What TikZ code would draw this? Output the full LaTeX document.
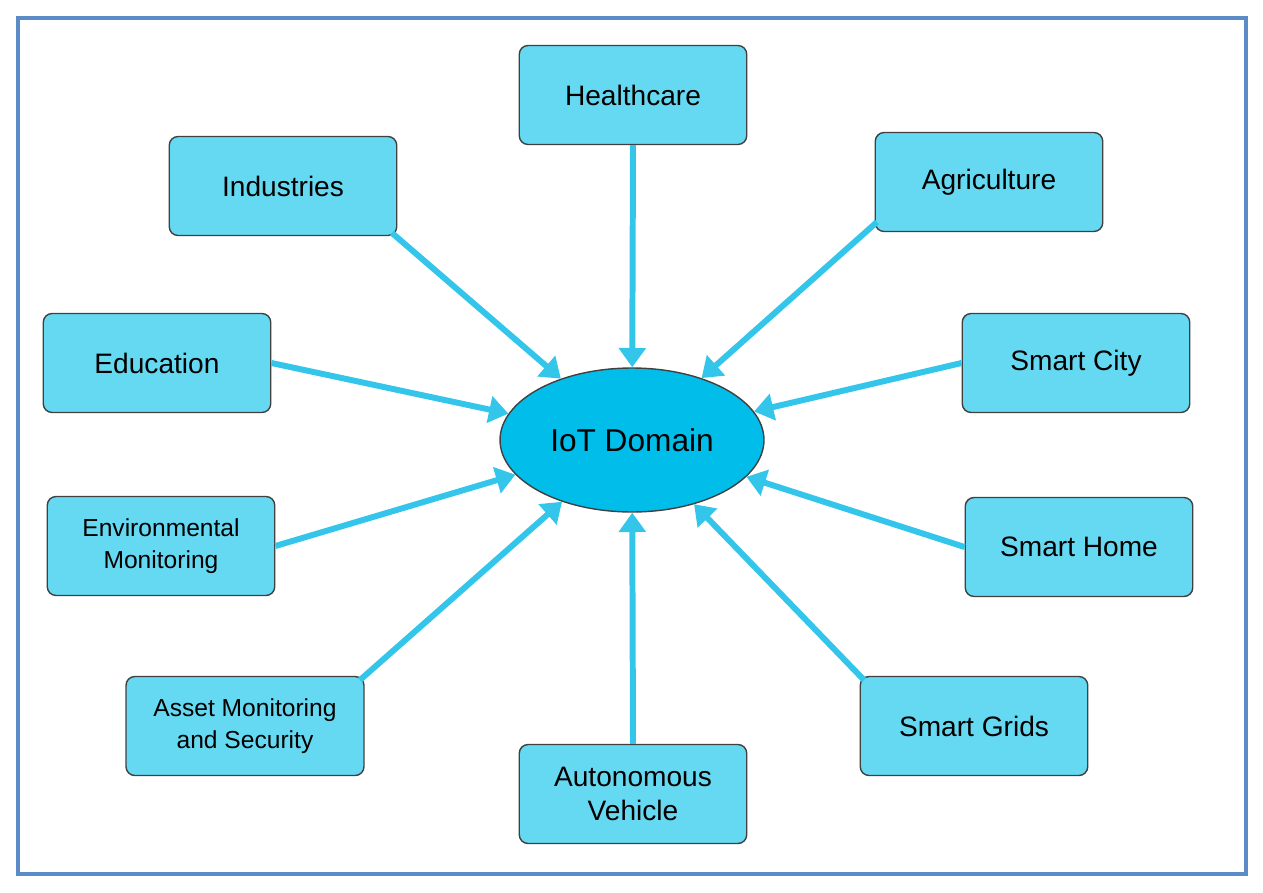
\documentclass[tikz,border=0pt]{standalone}
\usepackage{fontspec}
\setmainfont{Liberation Sans}
\usetikzlibrary{arrows.meta,shapes.geometric}
\definecolor{boxc}{HTML}{66D9F2}
\definecolor{ellc}{HTML}{00BDE9}
\definecolor{arrc}{HTML}{33C6EA}
\definecolor{framec}{HTML}{5B8CC8}
\begin{document}
\begin{tikzpicture}[x=0.02cm,y=-0.02cm,
 box/.style={draw=black!75,line width=0.8pt,fill=boxc,rounded corners=5pt,minimum width=4.55cm,minimum height=1.98cm,align=center,font=\fontsize{16}{19}\selectfont},
 box2/.style={box,font=\fontsize{14}{18}\selectfont},
 arr/.style={draw=arrc,line width=3.4pt,-{Triangle[length=11pt,width=15pt]}}]
\useasboundingbox (0,0) rectangle (1263,892);
\draw[framec,line width=1.8pt] (18,18) rectangle (1246,874);
\node[draw=black!75,line width=0.8pt,fill=ellc,ellipse,minimum width=5.28cm,minimum height=2.88cm,font=\fontsize{18}{22}\selectfont] (iot) at (632,440) {IoT Domain};
\node[box] (hc) at (633,95) {Healthcare};
\node[box] (ind) at (283,186) {Industries};
\node[box] (agr) at (989,182) {Agriculture};
\node[box] (edu) at (157,363) {Education};
\node[box] (sc) at (1076,363) {Smart City};
\node[box2] (env) at (161,546) {Environmental\\Monitoring};
\node[box] (sh) at (1079,547) {Smart Home};
\node[box2,minimum width=4.76cm] (asm) at (245,726) {Asset Monitoring\\and Security};
\node[box] (sg) at (974,726) {Smart Grids};
\node[box] (av) at (633,794) {Autonomous\\Vehicle};
\draw[arr] (hc.south) -- (iot);
\draw[arr] (392,233) -- (iot);
\draw[arr] (877,222) -- (iot);
\draw[arr] (edu.east) -- (iot);
\draw[arr] (sc.west) -- (iot);
\draw[arr] (env.east) -- (iot);
\draw[arr] (sh.west) -- (iot);
\draw[arr] (360,680) -- (iot);
\draw[arr] (864,680) -- (iot);
\draw[arr] (av.north) -- (iot);
\end{tikzpicture}
\end{document}
